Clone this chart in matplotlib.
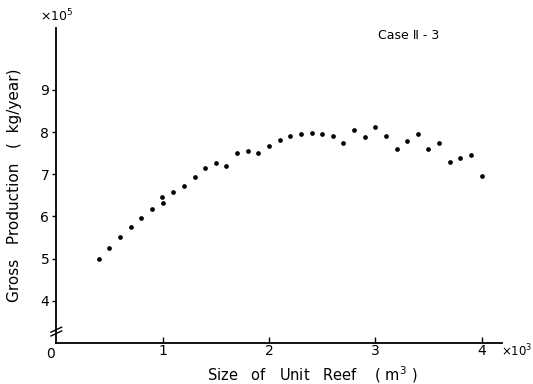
import matplotlib.pyplot as plt

# ── data (x in 10^3 m^3, y in 10^5 kg/year) ──
size_x = [0.4, 0.5, 0.6, 0.7, 0.8, 0.9, 0.99, 1.0, 1.1, 1.2, 1.3, 1.4, 1.5,
          1.6, 1.7, 1.8, 1.9, 2.0, 2.1, 2.2, 2.3, 2.4, 2.5, 2.6, 2.7, 2.8,
          2.9, 3.0, 3.1, 3.2, 3.3, 3.4, 3.5, 3.6, 3.7, 3.8, 3.9, 4.0]
production = [4.99, 5.25, 5.52, 5.74, 5.96, 6.17, 6.46, 6.31, 6.57, 6.72,
              6.93, 7.14, 7.26, 7.19, 7.51, 7.55, 7.51, 7.67, 7.81, 7.90,
              7.95, 7.97, 7.96, 7.90, 7.75, 8.05, 7.89, 8.13, 7.91, 7.61,
              7.78, 7.96, 7.59, 7.74, 7.29, 7.39, 7.46, 6.95]

x_ticks = [1, 2, 3, 4]
y_ticks = [4, 5, 6, 7, 8, 9]

plt.rcParams["font.family"] = "DejaVu Sans"

fig = plt.figure(figsize=(5.33, 3.84), dpi=100)
ax = fig.add_axes([0.1056, 0.107, 0.836, 0.82])

ax.plot(size_x, production, "o", color="black", markersize=3.4,
        markeredgewidth=0)

ax.set_xlim(0, 4.19)
ax.set_ylim(3.0, 10.47)
ax.spines["top"].set_visible(False)
ax.spines["right"].set_visible(False)
ax.spines["left"].set_linewidth(1.3)
ax.spines["bottom"].set_linewidth(1.3)

ax.set_xticks(x_ticks)
ax.set_yticks(y_ticks)
ax.tick_params(axis="x", direction="in", length=4, width=1, labelsize=10, pad=1)
ax.tick_params(axis="y", direction="out", length=3, width=1, labelsize=10, pad=2)

# axis-origin label and multipliers
ax.text(-0.012, -0.012, "0", transform=ax.transAxes, ha="center", va="top",
        fontsize=10)
ax.text(0.0, 1.012, r"$\times$10$^5$", transform=ax.transAxes, ha="center",
        va="bottom", fontsize=9)
ax.text(0.999, 0.0, r"$\times$10$^3$", transform=ax.transAxes, ha="left",
        va="top", fontsize=8.5)
ax.text(0.79, 0.975, "Case \u2161 - 3", transform=ax.transAxes, ha="center",
        va="center", fontsize=9)

# break marks on the y axis
for dy in (0.030, 0.042):
    ax.plot([-0.012, 0.012], [dy - 0.008, dy + 0.008], color="black",
            linewidth=1.0, transform=ax.transAxes, clip_on=False)

ax.set_ylabel("Gross   Production   (  kg/year)", fontsize=11, labelpad=13)
ax.set_xlabel("Size   of   Unit   Reef    ( m$^3$ )", fontsize=10.5,
              labelpad=4, x=0.575)

plt.savefig("out.png", dpi=100)
